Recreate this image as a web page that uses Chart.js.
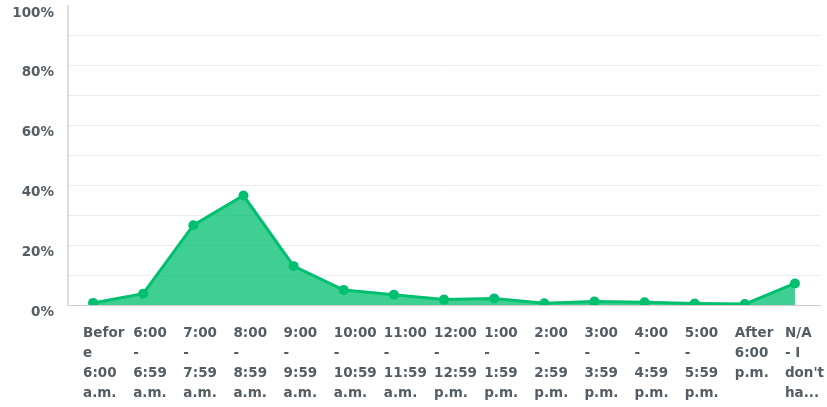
<!DOCTYPE html>
<html>
<head>
<meta charset="utf-8">
<script src="https://cdn.jsdelivr.net/npm/chart.js@4.4.1/dist/chart.umd.min.js"></script>
<style>
    html, body { margin: 0; padding: 0; background: #fff; }
    #wrap { width: 827px; height: 407px; position: relative; }
</style>
</head>
<body>
<div id="wrap"><canvas id="timeChart"></canvas></div>
<script>
// 類別（每個標籤分行）
const categories = [
    ["Befor", "e", "6:00", "a.m."],
    ["6:00", "-", "6:59", "a.m."],
    ["7:00", "-", "7:59", "a.m."],
    ["8:00", "-", "8:59", "a.m."],
    ["9:00", "-", "9:59", "a.m."],
    ["10:00", "-", "10:59", "a.m."],
    ["11:00", "-", "11:59", "a.m."],
    ["12:00", "-", "12:59", "p.m."],
    ["1:00", "-", "1:59", "p.m."],
    ["2:00", "-", "2:59", "p.m."],
    ["3:00", "-", "3:59", "p.m."],
    ["4:00", "-", "4:59", "p.m."],
    ["5:00", "-", "5:59", "p.m."],
    ["After", "6:00", "p.m."],
    ["N/A", "- I", "don't", "ha..."]
];
// 百分比數值
const percentages = [0.7, 3.8, 26.7, 36.6, 13.0, 5.0, 3.4, 1.8, 2.2, 0.6, 1.2, 0.9, 0.5, 0.3, 7.2];
// y 軸刻度
const yMin = 0;
const yMax = 100;
const yStep = 10;
const yLabelEvery = 20;

const fontFamily = "'DejaVu Sans', sans-serif";
const textColor = "#555d64";

const ctx = document.getElementById("timeChart").getContext("2d");
const chart = new Chart(ctx, {
    type: "line",
    data: {
        labels: categories,
        datasets: [{
            data: percentages,
            borderColor: "#00bf6f",
            backgroundColor: "rgba(0, 191, 111, 0.75)",
            borderWidth: 3,
            fill: "origin",
            tension: 0,
            pointRadius: 5,
            pointBackgroundColor: "#00bf6f",
            pointBorderColor: "#00bf6f",
            pointBorderWidth: 0
        }]
    },
    options: {
        responsive: true,
        maintainAspectRatio: false,
        animation: false,
        layout: { padding: { top: 6, right: 7, left: 0, bottom: 0 } },
        plugins: {
            legend: { display: false },
            tooltip: { enabled: false }
        },
        scales: {
            x: {
                offset: true,
                grid: { display: false, drawTicks: false },
                border: { display: true, color: "#cccccc", width: 1 },
                afterFit: (scale) => {
                    scale.height = 102;
                    scale.paddingLeft = 0;
                    scale.paddingRight = 0;
                },
                ticks: {
                    autoSkip: false,
                    maxRotation: 0,
                    minRotation: 0,
                    align: "start",
                    labelOffset: -10,
                    padding: 18,
                    color: textColor,
                    font: { family: fontFamily, size: 13.5, weight: "bold", lineHeight: 20 / 13.5 }
                }
            },
            y: {
                min: yMin,
                max: yMax,
                afterFit: (scale) => {
                    scale.width = 68;
                    scale.paddingTop = 0;
                    scale.paddingBottom = 0;
                },
                grid: {
                    drawTicks: false,
                    lineWidth: 1,
                    color: (c) => (c.tick && (c.tick.value === yMax || c.tick.value === yMin)) ? "rgba(0,0,0,0)" : "#ececec"
                },
                border: { display: true, color: "#dddddd", width: 2 },
                ticks: {
                    stepSize: yStep,
                    padding: 14,
                    labelOffset: 7,
                    color: textColor,
                    font: { family: fontFamily, size: 13.5, weight: "bold" },
                    callback: (v) => (v % yLabelEvery === 0 ? v + "%" : "")
                }
            }
        }
    }
});
</script>
</body>
</html>
